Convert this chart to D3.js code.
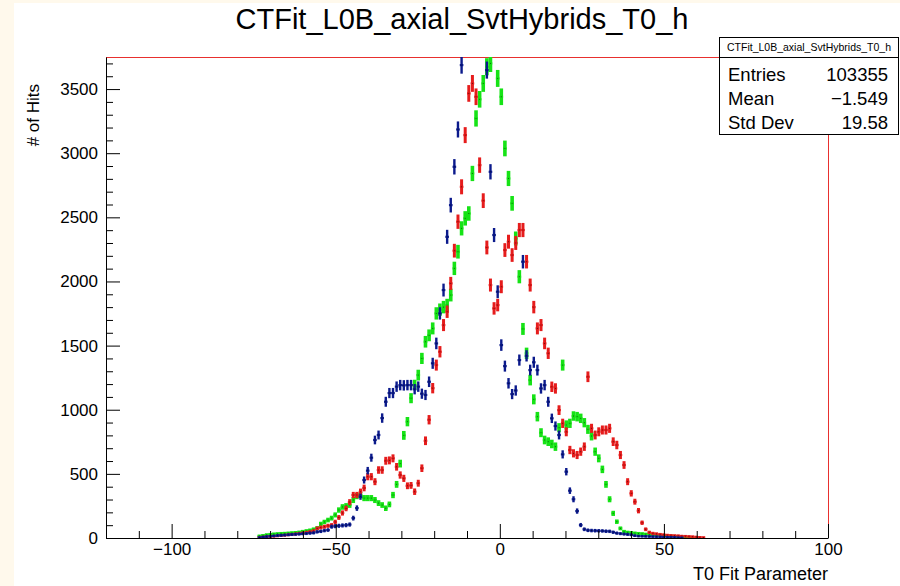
<!DOCTYPE html>
<html>
<head>
<meta charset="utf-8">
<script src="https://cdn.jsdelivr.net/npm/d3@7"></script>
<style>
  html, body { margin: 0; padding: 0; background: #fff9ec; }
  svg { display: block; font-family: "Liberation Sans", Arial, Helvetica, sans-serif; }
</style>
</head>
<body>
<svg id="chart" width="900" height="586"></svg>
<script>
// histogram binning: 200 bins over [-120, 100], data kept from bin 42 on
const binMin = -120;
const binWidth = 1.1;
const firstBin = 42;

const blueCounts = [
  4, 8, 11, 14, 16, 19, 21, 23, 25, 27,
  29, 31, 33, 35, 38, 40, 48, 52, 58, 62,
  88, 92, 95, 98, 100, 105, 155, 233, 322, 452,
  525, 626, 764, 803, 935, 1062, 1130, 1130, 1180, 1192,
  1190, 1192, 1192, 1160, 1180, 1125, 1115, 1218, 1362, 1517,
  1751, 1933, 2348, 2595, 2894, 3185, 3687, 3900, 4100, 4200,
  4250, 4150, 3950, 3648, 2855, 2362, 1920, 1504, 1340, 1206,
  1122, 1150, 1387, 2154, 1420, 1309, 1370, 1309, 1166, 1192,
  1062, 933, 873, 803, 652, 517, 369, 302, 210, 101,
  68, 60, 58, 57, 56, 55, 53, 52, 45, 38,
  34, 31, 28, 25, 18, 15, 14, 13, 12, 11,
  10, 9, 8, 7, 6, 5, 3, 2, 0, 0,
  0, 0, 0, 0
];

const redCounts = [
  5, 8, 10, 12, 14, 16, 19, 22, 25, 28,
  31, 35, 38, 43, 48, 55, 75, 82, 88, 95,
  100, 125, 160, 195, 230, 280, 335, 335, 360, 390,
  478, 478, 439, 530, 530, 602, 605, 621, 555, 491,
  465, 407, 410, 361, 427, 544, 758, 922, 1168, 1348,
  1452, 1660, 1764, 1985, 2240, 2466, 2738, 3141, 3466, 3544,
  3440, 2907, 2630, 2265, 1972, 1790, 1816, 1959, 2245, 2310,
  2206, 2300, 2401, 2401, 2154, 1972, 1800, 1634, 1660, 1517,
  1440, 1179, 1166, 997, 894, 828, 686, 660, 647, 673,
  712, 1257, 855, 803, 828, 842, 842, 855, 751, 725,
  647, 569, 439, 348, 283, 213, 119, 68, 44, 36,
  32, 28, 25, 22, 20, 18, 17, 15, 14, 12,
  10, 8, 6, 4
];

const greenCounts = [
  16, 20, 25, 28, 31, 33, 35, 36, 38, 40,
  42, 45, 50, 55, 60, 68, 78, 110, 125, 140,
  155, 180, 218, 242, 250, 257, 296, 327, 335, 311,
  311, 311, 296, 272, 257, 232, 262, 335, 418, 580,
  800, 907, 1090, 1193, 1270, 1400, 1530, 1580, 1634, 1751,
  1780, 1800, 1816, 1894, 2102, 2232, 2414, 2492, 2530, 2842,
  3271, 3420, 3544, 3674, 3700, 3850, 3583, 3440, 3037, 2803,
  2609, 2335, 2037, 1630, 1440, 1231, 1081, 946, 821, 764,
  751, 733, 712, 860, 1348, 881, 894, 951, 946, 933,
  899, 847, 795, 673, 621, 535, 418, 302, 192, 127,
  75, 50, 44, 42, 38, 35, 33, 30, 28, 26,
  24, 22, 20, 18, 16, 14, 12, 9, 6, 4,
  2, 0, 0, 0
];

const yMajorTicks = [0, 500, 1000, 1500, 2000, 2500, 3000, 3500];
const xMajorTicks = [-100, -50, 0, 50, 100];
const statsLabels = ["Entries", "Mean", "Std Dev"];
const statsValues = ["103355", "\u22121.549", "19.58"];
const histName = "CTFit_L0B_axial_SvtHybrids_T0_h";

const svg = d3.select("#chart");

// canvas: cream margin on left/top, white pad
svg.append("rect").attr("x", 0).attr("y", 0).attr("width", 900).attr("height", 586).attr("fill", "#fff9ec");
svg.append("rect").attr("x", 14).attr("y", 3).attr("width", 886).attr("height", 583).attr("fill", "#ffffff");

const margin = { left: 106, right: 828, top: 57, bottom: 538 };
const yMax = 3750;

const x = d3.scaleLinear().domain([-120, 100]).range([margin.left, margin.right]);
const y = d3.scaleLinear().domain([0, yMax]).range([margin.bottom, margin.top]);

svg.append("defs").append("clipPath").attr("id", "plotClip")
  .append("rect")
  .attr("x", margin.left).attr("y", margin.top)
  .attr("width", margin.right - margin.left).attr("height", margin.bottom - margin.top);

// title
svg.append("text")
  .attr("x", 462).attr("y", 29)
  .attr("text-anchor", "middle")
  .style("font-size", "29px")
  .text(histName);

// frame top and right (red)
svg.append("line")
  .attr("x1", margin.left).attr("x2", margin.right)
  .attr("y1", margin.top + 0.5).attr("y2", margin.top + 0.5)
  .attr("stroke", "#e8302e").attr("stroke-width", 1);
svg.append("line")
  .attr("x1", margin.right + 0.5).attr("x2", margin.right + 0.5)
  .attr("y1", margin.top).attr("y2", margin.bottom)
  .attr("stroke", "#e8302e").attr("stroke-width", 1);

// series
const series = [
  { counts: greenCounts, color: "#16e316", vw: 3.6 },
  { counts: redCounts, color: "#e61c1c", vw: 3 },
  { counts: blueCounts, color: "#0b1a8c", vw: 2.4 }
];

const plot = svg.append("g").attr("clip-path", "url(#plotClip)");

series.forEach(s => {
  const pts = s.counts
    .map((v, i) => ({ c: binMin + binWidth * (firstBin + i + 0.5), v: v }))
    .filter(d => d.v > 0 && d.v <= yMax);

  const g = plot.append("g");

  // vertical error bars
  g.selectAll(".ev")
    .data(pts)
    .enter()
    .append("line")
    .attr("x1", d => x(d.c)).attr("x2", d => x(d.c))
    .attr("y1", d => y(d.v + Math.sqrt(d.v)) - 0.8)
    .attr("y2", d => y(Math.max(0, d.v - Math.sqrt(d.v))) + 0.8)
    .attr("stroke", s.color)
    .attr("stroke-width", s.vw);

  // horizontal bars (bin width)
  g.selectAll(".eh")
    .data(pts)
    .enter()
    .append("line")
    .attr("x1", d => x(d.c - binWidth / 2)).attr("x2", d => x(d.c + binWidth / 2))
    .attr("y1", d => y(d.v)).attr("y2", d => y(d.v))
    .attr("stroke", s.color)
    .attr("stroke-width", 2.2);

  // marker dot
  g.selectAll(".mk")
    .data(pts)
    .enter()
    .append("rect")
    .attr("x", d => x(d.c) - 0.5).attr("y", d => y(d.v) - 0.5)
    .attr("width", 1).attr("height", 1)
    .attr("fill", "#000").attr("opacity", 0.55);
});

// y axis
const yMinorTicks = d3.range(0, yMax + 1, 100).filter(v => v % 500 !== 0);
svg.append("g")
  .attr("transform", `translate(${margin.left},0)`)
  .call(d3.axisLeft(y).tickValues(yMinorTicks).tickSize(-7).tickSizeOuter(0).tickFormat(""))
  .call(g => g.select(".domain").remove());

const yAxis = svg.append("g")
  .attr("transform", `translate(${margin.left},0)`)
  .call(d3.axisLeft(y).tickValues(yMajorTicks).tickSize(-14).tickSizeOuter(0).tickPadding(8).tickFormat(d3.format("d")));
yAxis.select(".domain").attr("stroke", "#000");
yAxis.selectAll("text").style("font-size", "17px").style("font-family", "'Liberation Sans', Arial, sans-serif").attr("fill", "#000");

// x axis
const xMinorTicks = d3.range(-120, 101, 10).filter(v => v % 50 !== 0);
svg.append("g")
  .attr("transform", `translate(0,${margin.bottom})`)
  .call(d3.axisBottom(x).tickValues(xMinorTicks).tickSize(-7).tickSizeOuter(0).tickFormat(""))
  .call(g => g.select(".domain").remove());

const xAxis = svg.append("g")
  .attr("transform", `translate(0,${margin.bottom})`)
  .call(d3.axisBottom(x).tickValues(xMajorTicks).tickSize(-14).tickSizeOuter(0).tickPadding(5).tickFormat(d3.format("d")));
xAxis.select(".domain").attr("stroke", "#000");
xAxis.selectAll("text").style("font-size", "17px").style("font-family", "'Liberation Sans', Arial, sans-serif").attr("fill", "#000");

// axis titles
svg.append("text")
  .attr("x", margin.right).attr("y", 580)
  .attr("text-anchor", "end")
  .style("font-size", "18px")
  .text("T0 Fit Parameter");

svg.append("text")
  .attr("transform", `translate(39,84) rotate(-90)`)
  .attr("text-anchor", "end")
  .style("font-size", "17px")
  .text("# of Hits");

// stats box
const sb = { x: 719, y: 37, w: 180, h: 97, head: 20 };
svg.append("rect")
  .attr("x", sb.x + 0.5).attr("y", sb.y + 0.5)
  .attr("width", sb.w - 1).attr("height", sb.h)
  .attr("fill", "#fff").attr("stroke", "#000").attr("stroke-width", 1);
svg.append("line")
  .attr("x1", sb.x).attr("x2", sb.x + sb.w)
  .attr("y1", sb.y + sb.head + 0.5).attr("y2", sb.y + sb.head + 0.5)
  .attr("stroke", "#000").attr("stroke-width", 1);
svg.append("text")
  .attr("x", sb.x + sb.w / 2).attr("y", sb.y + 14)
  .attr("text-anchor", "middle")
  .style("font-size", "10.5px")
  .text(histName);

const rowBaselines = [80.5, 104.5, 128.5];
statsLabels.forEach((lab, i) => {
  svg.append("text")
    .attr("x", sb.x + 9).attr("y", rowBaselines[i])
    .style("font-size", "18.5px")
    .text(lab);
  svg.append("text")
    .attr("x", sb.x + sb.w - 11).attr("y", rowBaselines[i])
    .attr("text-anchor", "end")
    .style("font-size", "18.5px")
    .text(statsValues[i]);
});
</script>
</body>
</html>
